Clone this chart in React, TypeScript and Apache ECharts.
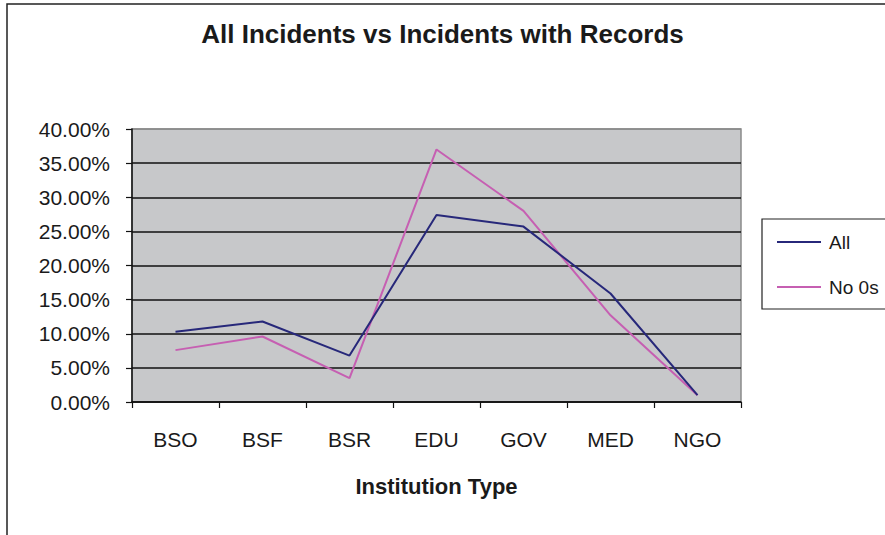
import React, { useEffect, useRef } from "react";
import * as echarts from "echarts";

const categories = ["BSO", "BSF", "BSR", "EDU", "GOV", "MED", "NGO"];
const allIncidents = [0.103, 0.118, 0.068, 0.274, 0.257, 0.159, 0.01];
const noZeros = [0.076, 0.096, 0.035, 0.37, 0.28, 0.127, 0.01];

const FONT = '"Liberation Sans", Arial, sans-serif';

export default function App() {
  const ref = useRef<HTMLDivElement>(null);

  useEffect(() => {
    if (!ref.current) return;
    const chart = echarts.init(ref.current, undefined, { renderer: "svg" });
    chart.setOption({
      animation: false,
      backgroundColor: "#ffffff",
      textStyle: { fontFamily: FONT },
      title: {
        text: "All Incidents vs Incidents with Records",
        left: "center",
        top: 16,
        textStyle: { fontFamily: FONT, fontSize: 26, fontWeight: "bold", color: "#1a1a1a" },
      },
      graphic: [
        {
          type: "rect",
          shape: { x: 7, y: 4, width: 900, height: 560 },
          style: { fill: "none", stroke: "#222", lineWidth: 1.5 },
          silent: true,
        },
        {
          type: "rect",
          shape: { x: 762, y: 219, width: 140, height: 90 },
          style: { fill: "#fff", stroke: "#222", lineWidth: 1.2 },
          silent: true,
          z: 0,
        },
      ],
      legend: {
        orient: "vertical",
        left: 777,
        top: 232,
        padding: 0,
        icon: "rect",
        itemWidth: 44,
        itemHeight: 2,
        itemGap: 25,
        textStyle: {
          fontFamily: FONT,
          fontSize: 19,
          color: "#1a1a1a",
          padding: [0, 0, 0, 3],
          lineHeight: 20,
        },
        data: ["All", "No 0s"],
        z: 10,
      },
      grid: {
        left: 132,
        right: 144,
        top: 129,
        bottom: 133,
        containLabel: false,
        show: true,
        backgroundColor: "#c7c8ca",
        borderColor: "#8a8a8a",
        borderWidth: 1.5,
      },
      xAxis: {
        type: "category",
        data: categories,
        boundaryGap: true,
        name: "Institution Type",
        nameLocation: "middle",
        nameGap: 73,
        nameTextStyle: { fontFamily: FONT, fontSize: 22, fontWeight: "bold", color: "#1a1a1a" },
        axisLine: { show: true, lineStyle: { color: "#111", width: 1.5 } },
        axisTick: { show: true, length: 6, lineStyle: { color: "#111", width: 1.2 } },
        axisLabel: { fontFamily: FONT, fontSize: 21, color: "#1a1a1a", margin: 27 },
        splitLine: { show: false },
      },
      yAxis: {
        type: "value",
        min: 0,
        max: 0.4,
        interval: 0.05,
        axisLine: { show: true, lineStyle: { color: "#111", width: 1.5 } },
        axisTick: { show: true, length: 6, lineStyle: { color: "#111", width: 1.2 } },
        axisLabel: {
          fontFamily: FONT,
          fontSize: 21,
          color: "#1a1a1a",
          margin: 22,
          formatter: (v: number) => (v * 100).toFixed(2) + "%",
        },
        splitLine: {
          show: true,
          lineStyle: {
            color: ["#111", "#111", "#111", "#111", "#111", "#111", "#111", "#111", "#8a8a8a"],
            width: 1.5,
          },
        },
      },
      series: [
        {
          name: "All",
          type: "line",
          data: allIncidents,
          symbol: "none",
          lineStyle: { color: "#27287a", width: 2 },
          itemStyle: { color: "#27287a" },
          z: 3,
        },
        {
          name: "No 0s",
          type: "line",
          data: noZeros,
          symbol: "none",
          lineStyle: { color: "#c65fb2", width: 2 },
          itemStyle: { color: "#c65fb2" },
          z: 2,
        },
      ],
    });
    return () => chart.dispose();
  }, []);

  return (
    <div
      ref={ref}
      style={{ position: "fixed", left: 0, top: 0, width: 885, height: 535 }}
    />
  );
}
